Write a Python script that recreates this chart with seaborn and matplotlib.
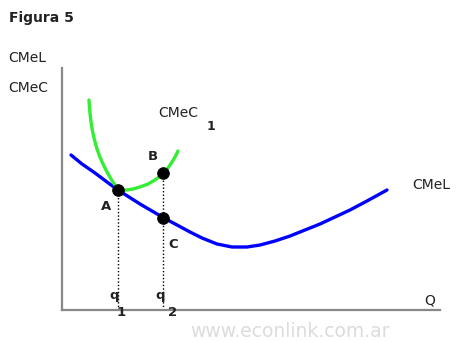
import matplotlib
matplotlib.use("Agg")
import matplotlib.pyplot as plt
import seaborn as sns
import pandas as pd

# (x = quantity, y = cost, arbitrary units)
cmel_q = [9, 20, 33, 45, 56, 67, 78, 90, 102, 115, 128, 140, 155, 170, 185, 198, 213, 228, 243, 258, 273, 288, 305, 325]
cmel_c = [155, 146, 137, 128, 120, 113, 106, 99, 92, 85, 78, 72, 66, 63, 63, 65, 69, 74, 80, 86, 93, 100, 109, 120]

cmec_q = [27, 27.5, 28.3, 29.3, 30.7, 32.5, 34.7, 37.5, 41, 45, 49, 53, 56, 60, 65, 71, 78, 86, 93, 98, 102, 106, 110, 113, 116]
cmec_c = [210, 202, 194, 186, 178, 170, 162, 154, 146, 138, 131, 125, 121, 120, 120, 121, 123, 126, 130, 134, 138, 142, 148, 153, 159]

q1, q2 = 56, 101
point_q = [q1, q2, q2]
point_c = [120, 137, 92]

W, H = 459, 342
fig = plt.figure(figsize=(W / 100, H / 100), dpi=100)
ax = fig.add_axes([62 / W, 32 / H, 378 / W, 242 / H])
sns.set_style("white")

df_l = pd.DataFrame({"q": cmel_q, "c": cmel_c})
df_c = pd.DataFrame({"q": cmec_q, "c": cmec_c})
sns.lineplot(data=df_l, x="q", y="c", sort=False, color="#0000ff", linewidth=2.4, ax=ax)
sns.lineplot(data=df_c, x="q", y="c", sort=False, color="#33ee33", linewidth=2.4, ax=ax)

# dotted guides down to the axis
ax.vlines([q1], 0, 120, colors="black", linestyles=(0, (1, 1.5)), linewidth=1)
ax.vlines([q2], 0, 137, colors="black", linestyles=(0, (1, 1.5)), linewidth=1)
sns.scatterplot(x=point_q, y=point_c, color="black", s=70, zorder=5, ax=ax, edgecolor="black")

ax.set_xlim(0, 378)
ax.set_ylim(0, 242)
ax.set_xticks([])
ax.set_yticks([])
ax.set_xlabel("")
ax.set_ylabel("")
for s in ["top", "right"]:
    ax.spines[s].set_visible(False)
for s in ["left", "bottom"]:
    ax.spines[s].set_color("#888888")
    ax.spines[s].set_linewidth(1.6)

txt = "#222222"
def px(x, y, s, **kw):
    fig.text(x / W, 1 - y / H, s, color=kw.pop("color", txt), **kw)

px(9, 18, "Figura 5", fontsize=10, fontweight="bold", va="center")
px(8, 58, "CMeL", fontsize=10, va="center")
px(8, 88, "CMeC", fontsize=10, va="center")
px(158, 113, "CMeC", fontsize=10, va="center")
px(207, 127, "1", fontsize=9, fontweight="bold", va="center")
px(412, 185, "CMeL", fontsize=10, va="center")
px(148, 157, "B", fontsize=9.5, fontweight="bold", va="center")
px(101, 206, "A", fontsize=9.5, fontweight="bold", va="center")
px(168, 244, "C", fontsize=9.5, fontweight="bold", va="center")
px(109, 296, "q", fontsize=9.5, fontweight="bold", va="center")
px(117, 313, "1", fontsize=9.5, fontweight="bold", va="center")
px(155, 296, "q", fontsize=9.5, fontweight="bold", va="center")
px(168, 313, "2", fontsize=9.5, fontweight="bold", va="center")
px(424, 300, "Q", fontsize=10, va="center")
px(190, 341, "www.econlink.com.ar", fontsize=13.5, color="#dcdcdc", va="bottom")

fig.savefig("out.png", dpi=100)
